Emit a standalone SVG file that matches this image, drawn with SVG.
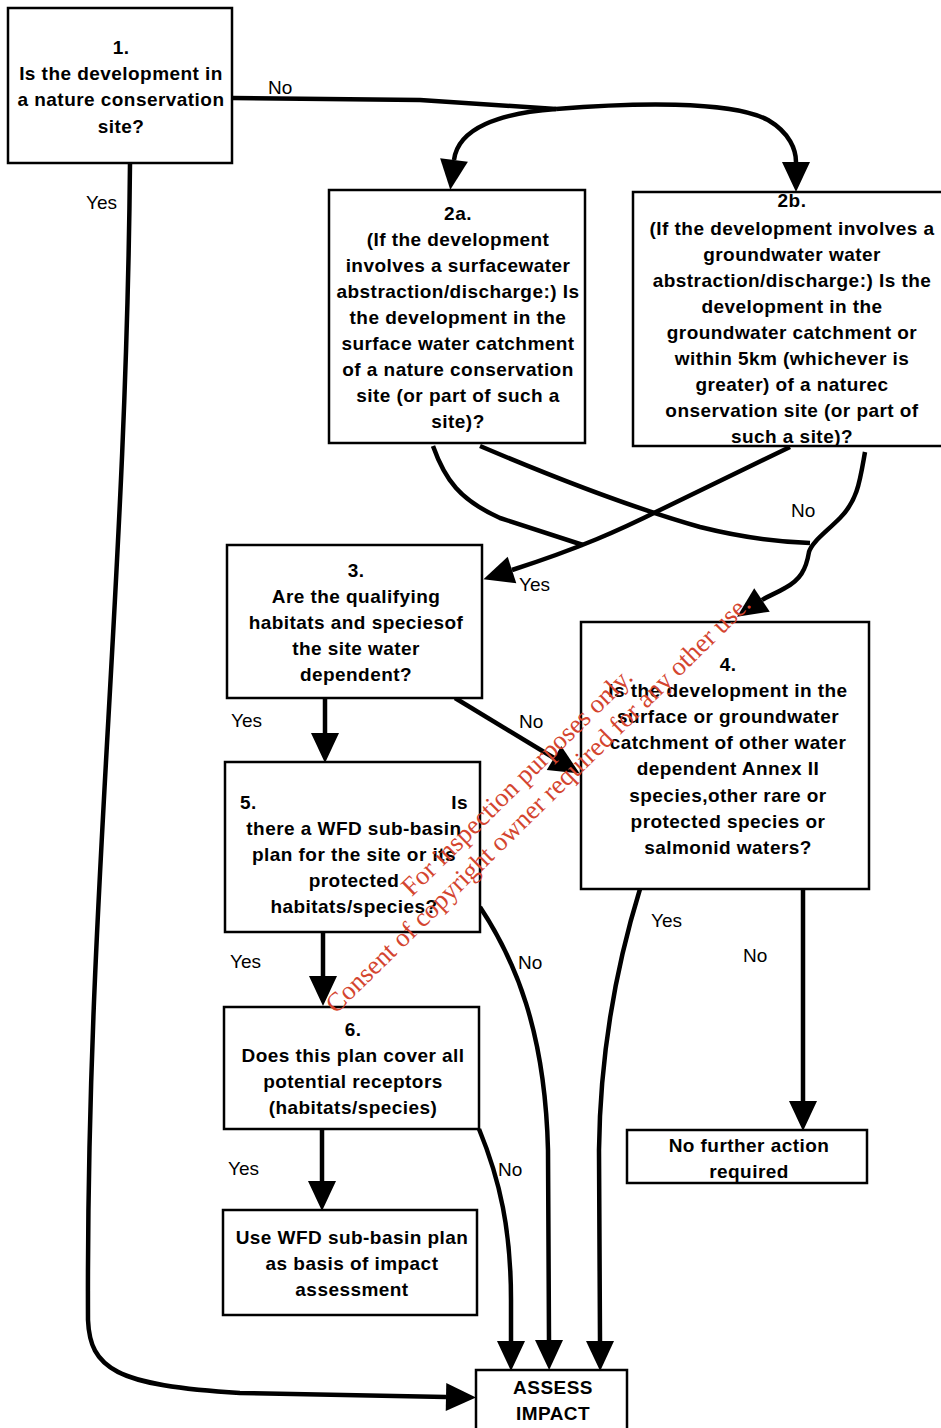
<svg xmlns="http://www.w3.org/2000/svg" width="941" height="1428" viewBox="0 0 941 1428">
<style>
.box{fill:#fff;stroke:#000;stroke-width:2.5}
.t{font-family:"Liberation Sans",Arial,sans-serif;font-size:19px;font-weight:bold;fill:#000;text-anchor:middle;letter-spacing:0.45px}
.l{font-family:"Liberation Sans",Arial,sans-serif;font-size:19px;fill:#000}
.c{fill:none;stroke:#000;stroke-width:4.5;stroke-linejoin:round}
.a{marker-end:url(#arr)}
.wm{font-family:"Liberation Serif","Times New Roman",serif;font-size:26.5px;fill:#d4452f;text-anchor:middle}
</style>
<defs>
<marker id="arr" markerUnits="userSpaceOnUse" viewBox="0 -15 32 30" markerWidth="32" markerHeight="30" refX="0" refY="0" orient="auto" overflow="visible">
<path d="M0,-14 L30,0 L0,14 z" fill="#000"/>
</marker>
</defs>
<rect width="941" height="1428" fill="#fff"/>

<g id="connectors">
<path class="c" d="M232,98 L420,100 L556,109"/>
<path class="c a" d="M556,109 C500,113 458,128 454,160"/>
<path class="c a" d="M556,109 C630,103 730,100 768,120 C790,133 796,150 796,162"/>
<path class="c" d="M433,446 C445,480 460,500 500,518 L583,545"/>
<path class="c a" d="M790,447 L660,510 C620,530 580,548 512,570"/>
<path class="c" d="M480,446 C560,480 640,510 700,527 C740,537 780,542 810,543"/>
<path class="c a" d="M865,452 C860,480 858,500 840,518 C825,533 812,542 809,552 C806,570 800,580 785,588 C775,594 768,596 762,600"/>
<path class="c a" d="M325,699 L325,733"/>
<path class="c a" d="M455,698 L554,758"/>
<path class="c a" d="M323,932 L323,976"/>
<path class="c a" d="M480,907 C515,960 545,1030 548,1150 L549,1340"/>
<path class="c a" d="M322,1129 L322,1181"/>
<path class="c a" d="M479,1129 C500,1180 511,1230 511,1300 L511,1341"/>
<path class="c a" d="M640,889 C615,970 600,1060 599,1150 L600,1341"/>
<path class="c a" d="M803,889 L803,1101"/>
<path class="c a" d="M130,163 C126,600 86,900 88,1320 C90,1368 115,1386 240,1393 L446,1397"/>
</g>

<g id="labels">
<text class="l" x="268" y="94">No</text>
<text class="l" x="86" y="209">Yes</text>
<text class="l" x="791" y="517">No</text>
<text class="l" x="519" y="591">Yes</text>
<text class="l" x="231" y="727">Yes</text>
<text class="l" x="519" y="728">No</text>
<text class="l" x="230" y="968">Yes</text>
<text class="l" x="518" y="969">No</text>
<text class="l" x="651" y="927">Yes</text>
<text class="l" x="743" y="962">No</text>
<text class="l" x="228" y="1175">Yes</text>
<text class="l" x="498" y="1176">No</text>
</g>

<g id="n1">
<rect class="box" x="8" y="8" width="224" height="155"/>
<text class="t" x="121" y="54">1.</text>
<text class="t" x="121" y="80">Is the development in</text>
<text class="t" x="121" y="106">a nature conservation</text>
<text class="t" x="121" y="133">site?</text>
</g>

<g id="n2a">
<rect class="box" x="329" y="190" width="256" height="253"/>
<text class="t" x="458" y="220">2a.</text>
<text class="t" x="458" y="246">(If the development</text>
<text class="t" x="458" y="272">involves a surfacewater</text>
<text class="t" x="458" y="298">abstraction/discharge:) Is</text>
<text class="t" x="458" y="324">the development in the</text>
<text class="t" x="458" y="350">surface water catchment</text>
<text class="t" x="458" y="376">of a nature conservation</text>
<text class="t" x="458" y="402">site (or part of such a</text>
<text class="t" x="458" y="428">site)?</text>
</g>

<g id="n2b">
<rect class="box" x="633" y="192" width="312" height="254"/>
<text class="t" x="792" y="207">2b.</text>
<text class="t" x="792" y="235">(If the development involves a</text>
<text class="t" x="792" y="261">groundwater water</text>
<text class="t" x="792" y="287">abstraction/discharge:) Is the</text>
<text class="t" x="792" y="313">development in the</text>
<text class="t" x="792" y="339">groundwater catchment or</text>
<text class="t" x="792" y="365">within 5km (whichever is</text>
<text class="t" x="792" y="391">greater) of a naturec</text>
<text class="t" x="792" y="417">onservation site (or part of</text>
<text class="t" x="792" y="443">such a site)?</text>
</g>

<g id="n3">
<rect class="box" x="227" y="545" width="255" height="153"/>
<text class="t" x="356" y="577">3.</text>
<text class="t" x="356" y="603">Are the qualifying</text>
<text class="t" x="356" y="629">habitats and speciesof</text>
<text class="t" x="356" y="655">the site water</text>
<text class="t" x="356" y="681">dependent?</text>
</g>

<g id="n4">
<rect class="box" x="581" y="622" width="288" height="267"/>
<text class="t" x="728" y="671">4.</text>
<text class="t" x="728" y="697">Is the development in the</text>
<text class="t" x="728" y="723">surface or groundwater</text>
<text class="t" x="728" y="749">catchment of other water</text>
<text class="t" x="728" y="775">dependent Annex II</text>
<text class="t" x="728" y="802">species,other rare or</text>
<text class="t" x="728" y="828">protected species or</text>
<text class="t" x="728" y="854">salmonid waters?</text>
</g>

<g id="n5">
<rect class="box" x="225" y="762" width="255" height="170"/>
<text class="t" x="240" y="809" style="text-anchor:start">5.</text>
<text class="t" x="468" y="809" style="text-anchor:end">Is</text>
<text class="t" x="354" y="835">there a WFD sub-basin</text>
<text class="t" x="354" y="861">plan for the site or its</text>
<text class="t" x="354" y="887">protected</text>
<text class="t" x="354" y="913">habitats/species?</text>
</g>

<g id="n6">
<rect class="box" x="224" y="1007" width="255" height="122"/>
<text class="t" x="353" y="1036">6.</text>
<text class="t" x="353" y="1062">Does this plan cover all</text>
<text class="t" x="353" y="1088">potential receptors</text>
<text class="t" x="353" y="1114">(habitats/species)</text>
</g>

<g id="nUse">
<rect class="box" x="223" y="1210" width="254" height="105"/>
<text class="t" x="352" y="1244">Use WFD sub-basin plan</text>
<text class="t" x="352" y="1270">as basis of impact</text>
<text class="t" x="352" y="1296">assessment</text>
</g>

<g id="nNFA">
<rect class="box" x="627" y="1130" width="240" height="53"/>
<text class="t" x="749" y="1152">No further action</text>
<text class="t" x="749" y="1178">required</text>
</g>

<g id="nAssess">
<rect class="box" x="476" y="1370" width="151" height="70"/>
<text class="t" x="553" y="1394">ASSESS</text>
<text class="t" x="553" y="1420">IMPACT</text>
</g>

<g id="watermark">
<text class="wm" transform="translate(523,788) rotate(-44.5)">For inspection purposes only.</text>
<text class="wm" transform="translate(544,810) rotate(-44.5)">Consent of copyright owner required for any other use.</text>
</g>
</svg>
